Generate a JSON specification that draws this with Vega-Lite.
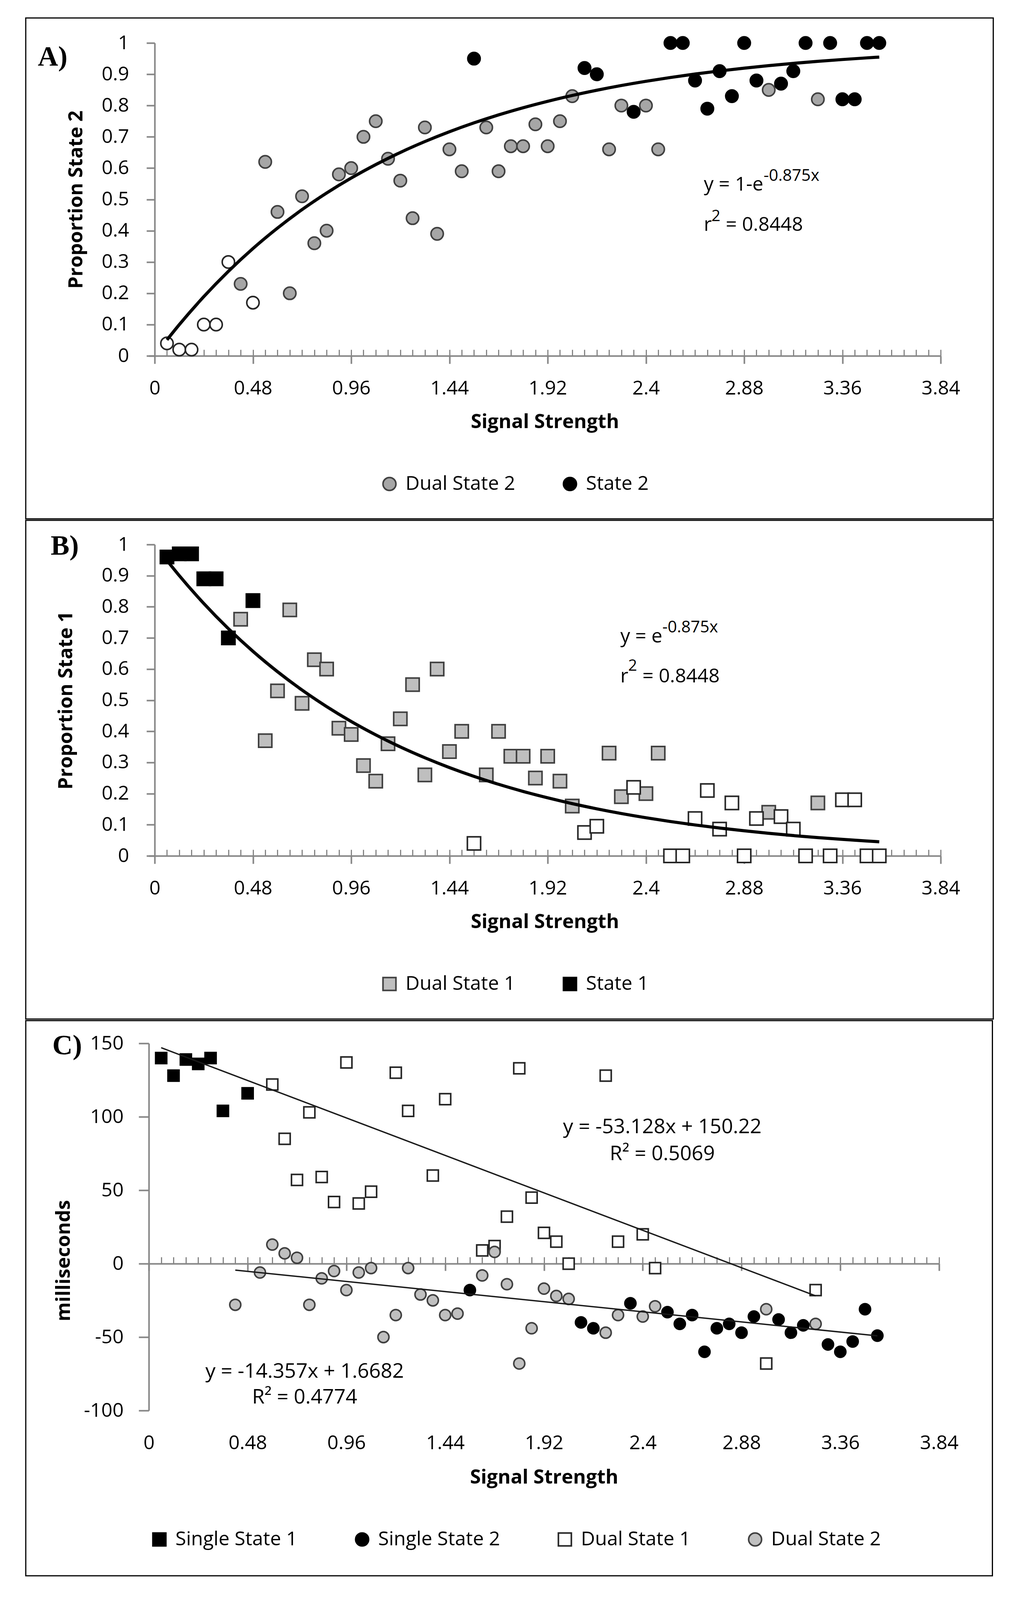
{
  "$schema": "https://vega.github.io/schema/vega-lite/v6.json",
  "description": "Proportion of state 1 / state 2 responses and response time differences by signal strength",
  "background": "white",
  "padding": {"left": 64, "top": 44, "right": 0, "bottom": 20},
  "spacing": 0,
  "align": "none",
  "datasets": {
    "a_pts": [
      {"signal": 0.06, "value": 0.04, "series": "Single State 1"},
      {"signal": 0.12, "value": 0.02, "series": "Single State 1"},
      {"signal": 0.18, "value": 0.02, "series": "Single State 1"},
      {"signal": 0.24, "value": 0.10, "series": "Single State 1"},
      {"signal": 0.30, "value": 0.10, "series": "Single State 1"},
      {"signal": 0.36, "value": 0.30, "series": "Single State 1"},
      {"signal": 0.48, "value": 0.17, "series": "Single State 1"},
      {"signal": 0.42, "value": 0.23, "series": "Dual State 2"},
      {"signal": 0.54, "value": 0.62, "series": "Dual State 2"},
      {"signal": 0.60, "value": 0.46, "series": "Dual State 2"},
      {"signal": 0.66, "value": 0.20, "series": "Dual State 2"},
      {"signal": 0.72, "value": 0.51, "series": "Dual State 2"},
      {"signal": 0.78, "value": 0.36, "series": "Dual State 2"},
      {"signal": 0.84, "value": 0.40, "series": "Dual State 2"},
      {"signal": 0.90, "value": 0.58, "series": "Dual State 2"},
      {"signal": 0.96, "value": 0.60, "series": "Dual State 2"},
      {"signal": 1.02, "value": 0.70, "series": "Dual State 2"},
      {"signal": 1.08, "value": 0.75, "series": "Dual State 2"},
      {"signal": 1.14, "value": 0.63, "series": "Dual State 2"},
      {"signal": 1.20, "value": 0.56, "series": "Dual State 2"},
      {"signal": 1.26, "value": 0.44, "series": "Dual State 2"},
      {"signal": 1.32, "value": 0.73, "series": "Dual State 2"},
      {"signal": 1.38, "value": 0.39, "series": "Dual State 2"},
      {"signal": 1.44, "value": 0.66, "series": "Dual State 2"},
      {"signal": 1.50, "value": 0.59, "series": "Dual State 2"},
      {"signal": 1.62, "value": 0.73, "series": "Dual State 2"},
      {"signal": 1.68, "value": 0.59, "series": "Dual State 2"},
      {"signal": 1.74, "value": 0.67, "series": "Dual State 2"},
      {"signal": 1.80, "value": 0.67, "series": "Dual State 2"},
      {"signal": 1.86, "value": 0.74, "series": "Dual State 2"},
      {"signal": 1.92, "value": 0.67, "series": "Dual State 2"},
      {"signal": 1.98, "value": 0.75, "series": "Dual State 2"},
      {"signal": 2.04, "value": 0.83, "series": "Dual State 2"},
      {"signal": 2.22, "value": 0.66, "series": "Dual State 2"},
      {"signal": 2.28, "value": 0.80, "series": "Dual State 2"},
      {"signal": 2.40, "value": 0.80, "series": "Dual State 2"},
      {"signal": 2.46, "value": 0.66, "series": "Dual State 2"},
      {"signal": 3.00, "value": 0.85, "series": "Dual State 2"},
      {"signal": 3.24, "value": 0.82, "series": "Dual State 2"},
      {"signal": 1.56, "value": 0.95, "series": "State 2"},
      {"signal": 2.10, "value": 0.92, "series": "State 2"},
      {"signal": 2.16, "value": 0.90, "series": "State 2"},
      {"signal": 2.34, "value": 0.78, "series": "State 2"},
      {"signal": 2.52, "value": 1, "series": "State 2"},
      {"signal": 2.58, "value": 1, "series": "State 2"},
      {"signal": 2.64, "value": 0.88, "series": "State 2"},
      {"signal": 2.70, "value": 0.79, "series": "State 2"},
      {"signal": 2.76, "value": 0.91, "series": "State 2"},
      {"signal": 2.82, "value": 0.83, "series": "State 2"},
      {"signal": 2.88, "value": 1, "series": "State 2"},
      {"signal": 2.94, "value": 0.88, "series": "State 2"},
      {"signal": 3.06, "value": 0.87, "series": "State 2"},
      {"signal": 3.12, "value": 0.91, "series": "State 2"},
      {"signal": 3.18, "value": 1, "series": "State 2"},
      {"signal": 3.30, "value": 1, "series": "State 2"},
      {"signal": 3.36, "value": 0.82, "series": "State 2"},
      {"signal": 3.42, "value": 0.82, "series": "State 2"},
      {"signal": 3.48, "value": 1, "series": "State 2"},
      {"signal": 3.54, "value": 1, "series": "State 2"}
    ],
    "a_fit": [
      {"signal": 0.06, "value": 0.0511}, {"signal": 0.12, "value": 0.0997},
      {"signal": 0.24, "value": 0.1894}, {"signal": 0.36, "value": 0.2702},
      {"signal": 0.48, "value": 0.3430}, {"signal": 0.60, "value": 0.4084},
      {"signal": 0.72, "value": 0.4674}, {"signal": 0.84, "value": 0.5205},
      {"signal": 0.96, "value": 0.5683}, {"signal": 1.08, "value": 0.6113},
      {"signal": 1.20, "value": 0.6501}, {"signal": 1.32, "value": 0.6849},
      {"signal": 1.44, "value": 0.7163}, {"signal": 1.56, "value": 0.7446},
      {"signal": 1.68, "value": 0.7701}, {"signal": 1.80, "value": 0.7930},
      {"signal": 1.92, "value": 0.8136}, {"signal": 2.04, "value": 0.8322},
      {"signal": 2.16, "value": 0.8489}, {"signal": 2.28, "value": 0.8640},
      {"signal": 2.40, "value": 0.8775}, {"signal": 2.52, "value": 0.8897},
      {"signal": 2.64, "value": 0.9007}, {"signal": 2.76, "value": 0.9106},
      {"signal": 2.88, "value": 0.9195}, {"signal": 3.00, "value": 0.9276},
      {"signal": 3.12, "value": 0.9348}, {"signal": 3.24, "value": 0.9413},
      {"signal": 3.36, "value": 0.9471}, {"signal": 3.48, "value": 0.9524},
      {"signal": 3.54, "value": 0.9548}
    ],
    "b_pts": [
      {"signal": 0.06, "value": 0.96, "series": "State 1"},
      {"signal": 0.12, "value": 0.97, "series": "State 1"},
      {"signal": 0.18, "value": 0.97, "series": "State 1"},
      {"signal": 0.24, "value": 0.89, "series": "State 1"},
      {"signal": 0.30, "value": 0.89, "series": "State 1"},
      {"signal": 0.36, "value": 0.70, "series": "State 1"},
      {"signal": 0.48, "value": 0.82, "series": "State 1"},
      {"signal": 0.42, "value": 0.76, "series": "Dual State 1"},
      {"signal": 0.54, "value": 0.37, "series": "Dual State 1"},
      {"signal": 0.60, "value": 0.53, "series": "Dual State 1"},
      {"signal": 0.66, "value": 0.79, "series": "Dual State 1"},
      {"signal": 0.72, "value": 0.49, "series": "Dual State 1"},
      {"signal": 0.78, "value": 0.63, "series": "Dual State 1"},
      {"signal": 0.84, "value": 0.60, "series": "Dual State 1"},
      {"signal": 0.90, "value": 0.41, "series": "Dual State 1"},
      {"signal": 0.96, "value": 0.39, "series": "Dual State 1"},
      {"signal": 1.02, "value": 0.29, "series": "Dual State 1"},
      {"signal": 1.08, "value": 0.24, "series": "Dual State 1"},
      {"signal": 1.14, "value": 0.36, "series": "Dual State 1"},
      {"signal": 1.20, "value": 0.44, "series": "Dual State 1"},
      {"signal": 1.26, "value": 0.55, "series": "Dual State 1"},
      {"signal": 1.32, "value": 0.26, "series": "Dual State 1"},
      {"signal": 1.38, "value": 0.60, "series": "Dual State 1"},
      {"signal": 1.44, "value": 0.335, "series": "Dual State 1"},
      {"signal": 1.50, "value": 0.40, "series": "Dual State 1"},
      {"signal": 1.62, "value": 0.26, "series": "Dual State 1"},
      {"signal": 1.68, "value": 0.40, "series": "Dual State 1"},
      {"signal": 1.74, "value": 0.32, "series": "Dual State 1"},
      {"signal": 1.80, "value": 0.32, "series": "Dual State 1"},
      {"signal": 1.86, "value": 0.25, "series": "Dual State 1"},
      {"signal": 1.92, "value": 0.32, "series": "Dual State 1"},
      {"signal": 1.98, "value": 0.24, "series": "Dual State 1"},
      {"signal": 2.04, "value": 0.16, "series": "Dual State 1"},
      {"signal": 2.22, "value": 0.33, "series": "Dual State 1"},
      {"signal": 2.28, "value": 0.19, "series": "Dual State 1"},
      {"signal": 2.40, "value": 0.20, "series": "Dual State 1"},
      {"signal": 2.46, "value": 0.33, "series": "Dual State 1"},
      {"signal": 3.00, "value": 0.14, "series": "Dual State 1"},
      {"signal": 3.24, "value": 0.17, "series": "Dual State 1"},
      {"signal": 1.56, "value": 0.04, "series": "Single State 2"},
      {"signal": 2.10, "value": 0.075, "series": "Single State 2"},
      {"signal": 2.16, "value": 0.095, "series": "Single State 2"},
      {"signal": 2.34, "value": 0.22, "series": "Single State 2"},
      {"signal": 2.52, "value": 0, "series": "Single State 2"},
      {"signal": 2.58, "value": 0, "series": "Single State 2"},
      {"signal": 2.64, "value": 0.12, "series": "Single State 2"},
      {"signal": 2.70, "value": 0.21, "series": "Single State 2"},
      {"signal": 2.76, "value": 0.086, "series": "Single State 2"},
      {"signal": 2.82, "value": 0.17, "series": "Single State 2"},
      {"signal": 2.88, "value": 0, "series": "Single State 2"},
      {"signal": 2.94, "value": 0.12, "series": "Single State 2"},
      {"signal": 3.06, "value": 0.126, "series": "Single State 2"},
      {"signal": 3.12, "value": 0.086, "series": "Single State 2"},
      {"signal": 3.18, "value": 0, "series": "Single State 2"},
      {"signal": 3.30, "value": 0, "series": "Single State 2"},
      {"signal": 3.36, "value": 0.18, "series": "Single State 2"},
      {"signal": 3.42, "value": 0.18, "series": "Single State 2"},
      {"signal": 3.48, "value": 0, "series": "Single State 2"},
      {"signal": 3.54, "value": 0, "series": "Single State 2"}
    ],
    "b_fit": [
      {"signal": 0.06, "value": 0.9489}, {"signal": 0.12, "value": 0.9003},
      {"signal": 0.24, "value": 0.8106}, {"signal": 0.36, "value": 0.7298},
      {"signal": 0.48, "value": 0.6570}, {"signal": 0.60, "value": 0.5916},
      {"signal": 0.72, "value": 0.5326}, {"signal": 0.84, "value": 0.4795},
      {"signal": 0.96, "value": 0.4317}, {"signal": 1.08, "value": 0.3887},
      {"signal": 1.20, "value": 0.3499}, {"signal": 1.32, "value": 0.3151},
      {"signal": 1.44, "value": 0.2837}, {"signal": 1.56, "value": 0.2554},
      {"signal": 1.68, "value": 0.2299}, {"signal": 1.80, "value": 0.2070},
      {"signal": 1.92, "value": 0.1864}, {"signal": 2.04, "value": 0.1678},
      {"signal": 2.16, "value": 0.1511}, {"signal": 2.28, "value": 0.1360},
      {"signal": 2.40, "value": 0.1225}, {"signal": 2.52, "value": 0.1103},
      {"signal": 2.64, "value": 0.0993}, {"signal": 2.76, "value": 0.0894},
      {"signal": 2.88, "value": 0.0805}, {"signal": 3.00, "value": 0.0724},
      {"signal": 3.12, "value": 0.0652}, {"signal": 3.24, "value": 0.0587},
      {"signal": 3.36, "value": 0.0529}, {"signal": 3.48, "value": 0.0476},
      {"signal": 3.54, "value": 0.0452}
    ],
    "c_pts": [
      {"signal": 0.06, "value": 140, "series": "Single State 1"},
      {"signal": 0.12, "value": 128, "series": "Single State 1"},
      {"signal": 0.18, "value": 139, "series": "Single State 1"},
      {"signal": 0.24, "value": 136, "series": "Single State 1"},
      {"signal": 0.30, "value": 140, "series": "Single State 1"},
      {"signal": 0.36, "value": 104, "series": "Single State 1"},
      {"signal": 0.48, "value": 116, "series": "Single State 1"},
      {"signal": 0.60, "value": 122, "series": "Dual State 1"},
      {"signal": 0.66, "value": 85, "series": "Dual State 1"},
      {"signal": 0.72, "value": 57, "series": "Dual State 1"},
      {"signal": 0.78, "value": 103, "series": "Dual State 1"},
      {"signal": 0.84, "value": 59, "series": "Dual State 1"},
      {"signal": 0.90, "value": 42, "series": "Dual State 1"},
      {"signal": 0.96, "value": 137, "series": "Dual State 1"},
      {"signal": 1.02, "value": 41, "series": "Dual State 1"},
      {"signal": 1.08, "value": 49, "series": "Dual State 1"},
      {"signal": 1.20, "value": 130, "series": "Dual State 1"},
      {"signal": 1.26, "value": 104, "series": "Dual State 1"},
      {"signal": 1.38, "value": 60, "series": "Dual State 1"},
      {"signal": 1.44, "value": 112, "series": "Dual State 1"},
      {"signal": 1.62, "value": 9, "series": "Dual State 1"},
      {"signal": 1.68, "value": 12, "series": "Dual State 1"},
      {"signal": 1.74, "value": 32, "series": "Dual State 1"},
      {"signal": 1.80, "value": 133, "series": "Dual State 1"},
      {"signal": 1.86, "value": 45, "series": "Dual State 1"},
      {"signal": 1.92, "value": 21, "series": "Dual State 1"},
      {"signal": 1.98, "value": 15, "series": "Dual State 1"},
      {"signal": 2.04, "value": 0, "series": "Dual State 1"},
      {"signal": 2.22, "value": 128, "series": "Dual State 1"},
      {"signal": 2.28, "value": 15, "series": "Dual State 1"},
      {"signal": 2.40, "value": 20, "series": "Dual State 1"},
      {"signal": 2.46, "value": -3, "series": "Dual State 1"},
      {"signal": 3.00, "value": -68, "series": "Dual State 1"},
      {"signal": 3.24, "value": -18, "series": "Dual State 1"},
      {"signal": 0.42, "value": -28, "series": "Dual State 2"},
      {"signal": 0.54, "value": -6, "series": "Dual State 2"},
      {"signal": 0.60, "value": 13, "series": "Dual State 2"},
      {"signal": 0.66, "value": 7, "series": "Dual State 2"},
      {"signal": 0.72, "value": 4, "series": "Dual State 2"},
      {"signal": 0.78, "value": -28, "series": "Dual State 2"},
      {"signal": 0.84, "value": -10, "series": "Dual State 2"},
      {"signal": 0.90, "value": -5, "series": "Dual State 2"},
      {"signal": 0.96, "value": -18, "series": "Dual State 2"},
      {"signal": 1.02, "value": -6, "series": "Dual State 2"},
      {"signal": 1.08, "value": -3, "series": "Dual State 2"},
      {"signal": 1.14, "value": -50, "series": "Dual State 2"},
      {"signal": 1.20, "value": -35, "series": "Dual State 2"},
      {"signal": 1.26, "value": -3, "series": "Dual State 2"},
      {"signal": 1.32, "value": -21, "series": "Dual State 2"},
      {"signal": 1.38, "value": -25, "series": "Dual State 2"},
      {"signal": 1.44, "value": -35, "series": "Dual State 2"},
      {"signal": 1.50, "value": -34, "series": "Dual State 2"},
      {"signal": 1.62, "value": -8, "series": "Dual State 2"},
      {"signal": 1.68, "value": 8, "series": "Dual State 2"},
      {"signal": 1.74, "value": -14, "series": "Dual State 2"},
      {"signal": 1.80, "value": -68, "series": "Dual State 2"},
      {"signal": 1.86, "value": -44, "series": "Dual State 2"},
      {"signal": 1.92, "value": -17, "series": "Dual State 2"},
      {"signal": 1.98, "value": -22, "series": "Dual State 2"},
      {"signal": 2.04, "value": -24, "series": "Dual State 2"},
      {"signal": 2.22, "value": -47, "series": "Dual State 2"},
      {"signal": 2.28, "value": -35, "series": "Dual State 2"},
      {"signal": 2.40, "value": -36, "series": "Dual State 2"},
      {"signal": 2.46, "value": -29, "series": "Dual State 2"},
      {"signal": 3.00, "value": -31, "series": "Dual State 2"},
      {"signal": 3.24, "value": -41, "series": "Dual State 2"},
      {"signal": 1.56, "value": -18, "series": "Single State 2"},
      {"signal": 2.10, "value": -40, "series": "Single State 2"},
      {"signal": 2.16, "value": -44, "series": "Single State 2"},
      {"signal": 2.34, "value": -27, "series": "Single State 2"},
      {"signal": 2.52, "value": -33, "series": "Single State 2"},
      {"signal": 2.58, "value": -41, "series": "Single State 2"},
      {"signal": 2.64, "value": -35, "series": "Single State 2"},
      {"signal": 2.70, "value": -60, "series": "Single State 2"},
      {"signal": 2.76, "value": -44, "series": "Single State 2"},
      {"signal": 2.82, "value": -41, "series": "Single State 2"},
      {"signal": 2.88, "value": -47, "series": "Single State 2"},
      {"signal": 2.94, "value": -36, "series": "Single State 2"},
      {"signal": 3.06, "value": -38, "series": "Single State 2"},
      {"signal": 3.12, "value": -47, "series": "Single State 2"},
      {"signal": 3.18, "value": -42, "series": "Single State 2"},
      {"signal": 3.30, "value": -55, "series": "Single State 2"},
      {"signal": 3.36, "value": -60, "series": "Single State 2"},
      {"signal": 3.42, "value": -53, "series": "Single State 2"},
      {"signal": 3.48, "value": -31, "series": "Single State 2"},
      {"signal": 3.54, "value": -49, "series": "Single State 2"}
    ],
    "c_fit": [
      {"trend": "Dual State 1", "signal": 0.06, "value": 147.03},
      {"trend": "Dual State 1", "signal": 3.24, "value": -21.91},
      {"trend": "Dual State 2", "signal": 0.42, "value": -4.36},
      {"trend": "Dual State 2", "signal": 3.54, "value": -49.15}
    ]
  },
  "resolve": {"scale": {"fill": "independent", "stroke": "independent", "shape": "independent"}},
  "vconcat": [
    {
      "width": 2027,
      "height": 801,
      "resolve": {"axis": {"x": "independent", "y": "independent"}, "scale": {"fill": "independent", "stroke": "independent"}},
      "layer": [
        {
          "data": {"values": [{}]},
          "mark": {"type": "rect", "filled": false, "color": "black", "strokeWidth": 3},
          "encoding": {
            "x": {"datum": -0.63, "type": "quantitative", "scale": {"domain": [-0.02863, 3.84], "nice": false}, "axis": null},
            "x2": {"datum": 4.097},
            "y": {"datum": 1.08, "type": "quantitative", "scale": {"domain": [0, 1], "nice": false}, "axis": null},
            "y2": {"datum": -0.521}
          }
        },
        {
          "data": {"name": "a_pts"},
          "mark": {"type": "point", "shape": "circle", "filled": true, "size": 1000, "strokeWidth": 4, "opacity": 1},
          "encoding": {
            "x": {
              "field": "signal", "type": "quantitative",
              "scale": {"domain": [-0.02863, 3.84], "nice": false},
              "axis": {"orient": "bottom", "values": [0, 0.48, 0.96, 1.44, 1.92, 2.4, 2.88, 3.36, 3.84], "labelExpr": "toString(datum.value)", "title": "Signal Strength", "domainWidth": 4, "tickWidth": 4, "tickSize": 20, "labelPadding": 38, "titlePadding": 36}
            },
            "y": {
              "field": "value", "type": "quantitative",
              "scale": {"domain": [0, 1], "nice": false},
              "axis": {"orient": "left", "offset": -15, "values": [0, 0.1, 0.2, 0.3, 0.4, 0.5, 0.6, 0.7, 0.8, 0.9, 1], "labelExpr": "toString(datum.value)", "title": "Proportion State 2", "domainWidth": 4, "tickWidth": 4, "tickSize": 21, "labelPadding": 45, "titlePadding": 39}
            },
            "fill": {
              "field": "series", "type": "nominal",
              "scale": {"domain": ["Dual State 2", "State 2", "Single State 1"], "range": ["#a6a6a6", "#000000", "#ffffff"]},
              "legend": {"title": null, "values": ["Dual State 2", "State 2"], "legendX": 591, "legendY": 1104}
            },
            "stroke": {
              "field": "series", "type": "nominal",
              "scale": {"domain": ["Dual State 2", "State 2", "Single State 1"], "range": ["#404040", "#000000", "#262626"]},
              "legend": {"title": null, "values": ["Dual State 2", "State 2"], "legendX": 591, "legendY": 1104}
            }
          }
        },
        {
          "data": {"name": "a_fit"},
          "mark": {"type": "line", "color": "black", "strokeWidth": 8, "interpolate": "monotone"},
          "encoding": {
            "x": {
              "field": "signal", "type": "quantitative",
              "axis": {"orient": "bottom", "values": [0, 0.06, 0.12, 0.18, 0.24, 0.3, 0.36, 0.42, 0.48, 0.54, 0.6, 0.66, 0.72, 0.78, 0.84, 0.9, 0.96, 1.02, 1.08, 1.14, 1.2, 1.26, 1.32, 1.38, 1.44, 1.5, 1.56, 1.62, 1.68, 1.74, 1.8, 1.86, 1.92, 1.98, 2.04, 2.1, 2.16, 2.22, 2.28, 2.34, 2.4, 2.46, 2.52, 2.58, 2.64, 2.7, 2.76, 2.82, 2.88, 2.94, 3, 3.06, 3.12, 3.18, 3.24, 3.3, 3.36, 3.42, 3.48, 3.54, 3.6, 3.66, 3.72, 3.78, 3.84], "labels": false, "domain": false, "title": null, "tickSize": 16, "tickWidth": 3, "offset": -16}
            },
            "y": {"field": "value", "type": "quantitative", "axis": null}
          }
        },
        {
          "data": {"values": [{}]},
          "mark": {"type": "text", "text": "A)", "font": "Liberation Serif", "fontWeight": "bold", "fontSize": 72, "align": "left", "baseline": "alphabetic"},
          "encoding": {"x": {"datum": -0.571, "axis": null}, "y": {"datum": 0.928, "axis": null}}
        },
        {
          "data": {"values": [{}]},
          "mark": {"type": "text", "text": "y = 1-e", "align": "left", "baseline": "alphabetic"},
          "encoding": {"x": {"datum": 2.683, "axis": null}, "y": {"datum": 0.528, "axis": null}}
        },
        {
          "data": {"values": [{}]},
          "mark": {"type": "text", "text": "-0.875x", "fontSize": 42, "align": "left", "baseline": "alphabetic"},
          "encoding": {"x": {"datum": 2.975, "axis": null}, "y": {"datum": 0.5595, "axis": null}}
        },
        {
          "data": {"values": [{}]},
          "mark": {"type": "text", "text": "r", "align": "left", "baseline": "alphabetic"},
          "encoding": {"x": {"datum": 2.683, "axis": null}, "y": {"datum": 0.399, "axis": null}}
        },
        {
          "data": {"values": [{}]},
          "mark": {"type": "text", "text": "2", "fontSize": 40, "align": "left", "baseline": "alphabetic"},
          "encoding": {"x": {"datum": 2.72, "axis": null}, "y": {"datum": 0.4305, "axis": null}}
        },
        {
          "data": {"values": [{}]},
          "mark": {"type": "text", "text": "= 0.8448", "align": "left", "baseline": "alphabetic"},
          "encoding": {"x": {"datum": 2.79, "axis": null}, "y": {"datum": 0.399, "axis": null}}
        }
      ]
    },
    {
      "width": 2027,
      "height": 797,
      "resolve": {"axis": {"x": "independent", "y": "independent"}, "scale": {"fill": "independent", "stroke": "independent"}},
      "layer": [
        {
          "data": {"values": [{}]},
          "mark": {"type": "rect", "filled": false, "color": "black", "strokeWidth": 3},
          "encoding": {
            "x": {"datum": -0.63, "type": "quantitative", "scale": {"domain": [-0.02863, 3.84], "nice": false}, "axis": null},
            "x2": {"datum": 4.097},
            "y": {"datum": 1.0777, "type": "quantitative", "scale": {"domain": [0, 1], "nice": false}, "axis": null},
            "y2": {"datum": -0.524}
          }
        },
        {
          "data": {"name": "b_pts"},
          "mark": {"type": "point", "shape": "square", "filled": true, "size": 1150, "strokeWidth": 4, "opacity": 1},
          "encoding": {
            "x": {
              "field": "signal", "type": "quantitative",
              "scale": {"domain": [-0.02863, 3.84], "nice": false},
              "axis": {"orient": "bottom", "values": [0, 0.48, 0.96, 1.44, 1.92, 2.4, 2.88, 3.36, 3.84], "labelExpr": "toString(datum.value)", "title": "Signal Strength", "domainWidth": 4, "tickWidth": 4, "tickSize": 20, "labelPadding": 38, "titlePadding": 36}
            },
            "y": {
              "field": "value", "type": "quantitative",
              "scale": {"domain": [0, 1], "nice": false},
              "axis": {"orient": "left", "offset": -15, "values": [0, 0.1, 0.2, 0.3, 0.4, 0.5, 0.6, 0.7, 0.8, 0.9, 1], "labelExpr": "toString(datum.value)", "title": "Proportion State 1", "domainWidth": 4, "tickWidth": 4, "tickSize": 21, "labelPadding": 45, "titlePadding": 65}
            },
            "fill": {
              "field": "series", "type": "nominal",
              "scale": {"domain": ["Dual State 1", "State 1", "Single State 2"], "range": ["#bfbfbf", "#000000", "#ffffff"]},
              "legend": {"title": null, "values": ["Dual State 1", "State 1"], "legendX": 591, "legendY": 1100}
            },
            "stroke": {
              "field": "series", "type": "nominal",
              "scale": {"domain": ["Dual State 1", "State 1", "Single State 2"], "range": ["#404040", "#000000", "#262626"]},
              "legend": {"title": null, "values": ["Dual State 1", "State 1"], "legendX": 591, "legendY": 1100}
            }
          }
        },
        {
          "data": {"name": "b_fit"},
          "mark": {"type": "line", "color": "black", "strokeWidth": 8, "interpolate": "monotone"},
          "encoding": {
            "x": {
              "field": "signal", "type": "quantitative",
              "axis": {"orient": "bottom", "values": [0, 0.06, 0.12, 0.18, 0.24, 0.3, 0.36, 0.42, 0.48, 0.54, 0.6, 0.66, 0.72, 0.78, 0.84, 0.9, 0.96, 1.02, 1.08, 1.14, 1.2, 1.26, 1.32, 1.38, 1.44, 1.5, 1.56, 1.62, 1.68, 1.74, 1.8, 1.86, 1.92, 1.98, 2.04, 2.1, 2.16, 2.22, 2.28, 2.34, 2.4, 2.46, 2.52, 2.58, 2.64, 2.7, 2.76, 2.82, 2.88, 2.94, 3, 3.06, 3.12, 3.18, 3.24, 3.3, 3.36, 3.42, 3.48, 3.54, 3.6, 3.66, 3.72, 3.78, 3.84], "labels": false, "domain": false, "title": null, "tickSize": 16, "tickWidth": 3, "offset": -16}
            },
            "y": {"field": "value", "type": "quantitative", "axis": null}
          }
        },
        {
          "data": {"values": [{}]},
          "mark": {"type": "text", "text": "B)", "font": "Liberation Serif", "fontWeight": "bold", "fontSize": 72, "align": "left", "baseline": "alphabetic"},
          "encoding": {"x": {"datum": -0.508, "axis": null}, "y": {"datum": 0.9676, "axis": null}}
        },
        {
          "data": {"values": [{}]},
          "mark": {"type": "text", "text": "y = e", "align": "left", "baseline": "alphabetic"},
          "encoding": {"x": {"datum": 2.275, "axis": null}, "y": {"datum": 0.685, "axis": null}}
        },
        {
          "data": {"values": [{}]},
          "mark": {"type": "text", "text": "-0.875x", "fontSize": 42, "align": "left", "baseline": "alphabetic"},
          "encoding": {"x": {"datum": 2.48, "axis": null}, "y": {"datum": 0.718, "axis": null}}
        },
        {
          "data": {"values": [{}]},
          "mark": {"type": "text", "text": "r", "align": "left", "baseline": "alphabetic"},
          "encoding": {"x": {"datum": 2.275, "axis": null}, "y": {"datum": 0.557, "axis": null}}
        },
        {
          "data": {"values": [{}]},
          "mark": {"type": "text", "text": "2", "fontSize": 40, "align": "left", "baseline": "alphabetic"},
          "encoding": {"x": {"datum": 2.313, "axis": null}, "y": {"datum": 0.595, "axis": null}}
        },
        {
          "data": {"values": [{}]},
          "mark": {"type": "text", "text": "= 0.8448", "align": "left", "baseline": "alphabetic"},
          "encoding": {"x": {"datum": 2.383, "axis": null}, "y": {"datum": 0.557, "axis": null}}
        }
      ]
    },
    {
      "width": 2023,
      "height": 940,
      "resolve": {"axis": {"x": "independent", "y": "independent"}, "scale": {"fill": "independent", "stroke": "independent", "shape": "independent"}},
      "layer": [
        {
          "data": {"values": [{}]},
          "mark": {"type": "rect", "filled": false, "color": "black", "strokeWidth": 3},
          "encoding": {
            "x": {"datum": -0.598, "type": "quantitative", "scale": {"domain": [0, 3.84], "nice": false}, "axis": null},
            "x2": {"datum": 4.099},
            "y": {"datum": 165.5, "type": "quantitative", "scale": {"domain": [-100, 150], "nice": false}, "axis": null},
            "y2": {"datum": -212.5}
          }
        },
        {
          "data": {"name": "c_pts"},
          "mark": {"type": "point", "filled": true, "size": 800, "strokeWidth": 4, "opacity": 1},
          "encoding": {
            "x": {
              "field": "signal", "type": "quantitative",
              "scale": {"domain": [0, 3.84], "nice": false},
              "axis": {"orient": "bottom", "values": [0, 0.48, 0.96, 1.44, 1.92, 2.4, 2.88, 3.36, 3.84], "labelExpr": "toString(datum.value)", "title": "Signal Strength", "domain": false, "ticks": false, "tickSize": 0, "labelPadding": 58, "titlePadding": 38}
            },
            "y": {
              "field": "value", "type": "quantitative",
              "scale": {"domain": [-100, 150], "nice": false},
              "axis": {"orient": "left", "values": [-100, -50, 0, 50, 100, 150], "labelExpr": "toString(datum.value)", "title": "milliseconds", "domainWidth": 4, "tickWidth": 4, "tickSize": 26, "labelPadding": 39, "titlePadding": 26, "titleY": 556}
            },
            "fill": {
              "field": "series", "type": "nominal",
              "scale": {"domain": ["Single State 1", "Single State 2", "Dual State 1", "Dual State 2"], "range": ["#000000", "#000000", "#ffffff", "#c0c0c0"]},
              "legend": {"title": null, "legendX": 2, "legendY": 1245, "columnPadding": 140}
            },
            "stroke": {
              "field": "series", "type": "nominal",
              "scale": {"domain": ["Single State 1", "Single State 2", "Dual State 1", "Dual State 2"], "range": ["#000000", "#000000", "#262626", "#404040"]},
              "legend": {"title": null, "legendX": 2, "legendY": 1245, "columnPadding": 140}
            },
            "shape": {
              "field": "series", "type": "nominal",
              "scale": {"domain": ["Single State 1", "Single State 2", "Dual State 1", "Dual State 2"], "range": ["square", "circle", "square", "circle"]},
              "legend": {"title": null, "legendX": 2, "legendY": 1245, "columnPadding": 140}
            }
          }
        },
        {
          "data": {"name": "c_fit"},
          "mark": {"type": "line", "color": "#1a1a1a", "strokeWidth": 3.5},
          "encoding": {
            "x": {
              "field": "signal", "type": "quantitative",
              "axis": {"orient": "bottom", "values": [0, 0.48, 0.96, 1.44, 1.92, 2.4, 2.88, 3.36, 3.84], "labels": false, "title": null, "domainWidth": 4, "tickWidth": 4, "tickSize": 18, "offset": -376}
            },
            "y": {"field": "value", "type": "quantitative", "axis": null},
            "detail": {"field": "trend", "type": "nominal"}
          }
        },
        {
          "data": {"values": [{}]},
          "mark": {"type": "text", "text": "C)", "font": "Liberation Serif", "fontWeight": "bold", "fontSize": 72, "align": "left", "baseline": "alphabetic"},
          "encoding": {
            "x": {"datum": -0.469, "axis": {"orient": "bottom", "values": [0, 0.06, 0.12, 0.18, 0.24, 0.3, 0.36, 0.42, 0.48, 0.54, 0.6, 0.66, 0.72, 0.78, 0.84, 0.9, 0.96, 1.02, 1.08, 1.14, 1.2, 1.26, 1.32, 1.38, 1.44, 1.5, 1.56, 1.62, 1.68, 1.74, 1.8, 1.86, 1.92, 1.98, 2.04, 2.1, 2.16, 2.22, 2.28, 2.34, 2.4, 2.46, 2.52, 2.58, 2.64, 2.7, 2.76, 2.82, 2.88, 2.94, 3, 3.06, 3.12, 3.18, 3.24, 3.3, 3.36, 3.42, 3.48, 3.54, 3.6, 3.66, 3.72, 3.78, 3.84], "labels": false, "domain": false, "title": null, "tickSize": 17, "tickWidth": 3, "offset": -393}},
            "y": {"datum": 142.6, "axis": null}
          }
        },
        {
          "data": {"values": [{}]},
          "mark": {"type": "text", "text": "y = -53.128x + 150.22", "fontSize": 52, "align": "center", "baseline": "alphabetic"},
          "encoding": {"x": {"datum": 2.495, "axis": null}, "y": {"datum": 88.9, "axis": null}}
        },
        {
          "data": {"values": [{}]},
          "mark": {"type": "text", "text": "R² = 0.5069", "fontSize": 52, "align": "center", "baseline": "alphabetic"},
          "encoding": {"x": {"datum": 2.495, "axis": null}, "y": {"datum": 70.4, "axis": null}}
        },
        {
          "data": {"values": [{}]},
          "mark": {"type": "text", "text": "y = -14.357x + 1.6682", "fontSize": 52, "align": "center", "baseline": "alphabetic"},
          "encoding": {"x": {"datum": 0.757, "axis": null}, "y": {"datum": -77.7, "axis": null}}
        },
        {
          "data": {"values": [{}]},
          "mark": {"type": "text", "text": "R² = 0.4774", "fontSize": 52, "align": "center", "baseline": "alphabetic"},
          "encoding": {"x": {"datum": 0.757, "axis": null}, "y": {"datum": -95.3, "axis": null}}
        }
      ]
    }
  ],
  "config": {
    "view": {"stroke": null},
    "font": "Open Sans",
    "axis": {
      "labelFont": "Open Sans", "labelFontSize": 50, "labelColor": "black",
      "titleFont": "Open Sans", "titleFontSize": 50, "titleFontWeight": "bold", "titleColor": "black",
      "grid": false, "domainColor": "#868686", "tickColor": "#868686",
      "labelFlush": false, "labelOverlap": false, "labelBound": false
    },
    "legend": {
      "orient": "none", "direction": "horizontal",
      "labelFont": "Open Sans", "labelFontSize": 50, "labelColor": "black", "labelLimit": 0,
      "labelOffset": 16, "symbolSize": 1100, "symbolStrokeWidth": 4, "columnPadding": 115
    },
    "text": {"font": "Open Sans", "fontSize": 50, "color": "black"}
  }
}
